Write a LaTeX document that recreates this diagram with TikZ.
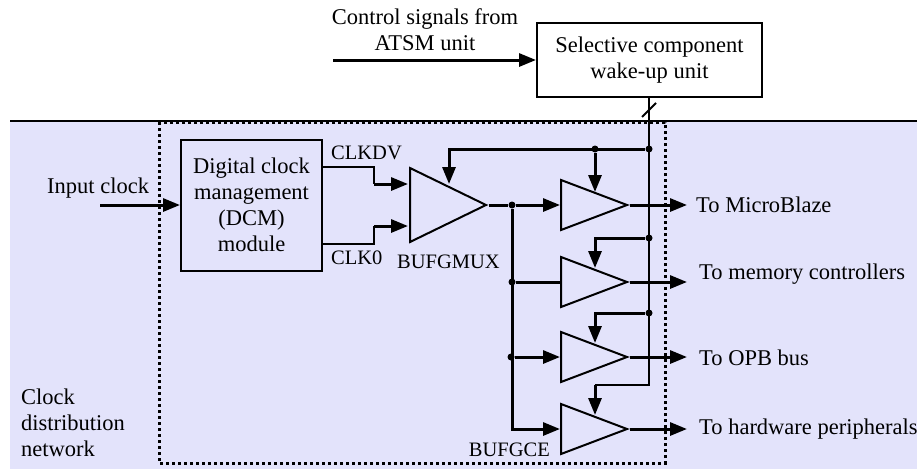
\documentclass[tikz,border=0pt]{standalone}
\usepackage{fontspec}
\setmainfont{Liberation Serif}
\usetikzlibrary{shapes.geometric,arrows.meta,positioning}
\definecolor{netblue}{RGB}{227,227,251}

\begin{document}
\begin{tikzpicture}[
        x=1pt, y=-1pt,
        every node/.style={font=\fontsize{22.5}{26}\selectfont, inner sep=0pt},
        small/.style={font=\fontsize{20.5}{24}\selectfont},
        >={Triangle[length=17pt,width=13pt]},
        box/.style={draw, line width=2pt, align=center},
        buf/.style={draw, line width=2pt, isosceles triangle, isosceles triangle stretches,
                    anchor=west, minimum width=50pt, minimum height=66pt},
        sig/.style={line width=3pt},
        ctl/.style={line width=2pt},
        dot/.style={circle, fill=black, minimum size=7pt},
    ]
        \useasboundingbox (0,0) rectangle (917,471);

        % --- Clock network boundary ---
        \fill[netblue] (10,121) rectangle (917,469);
        \draw[line width=2pt] (10,121) -- (917,121);
        \draw[line width=3pt, dash pattern=on 3pt off 3pt] (159,122) rectangle (665,463);

        % --- Boxes ---
        \node[box, minimum width=141pt, minimum height=131pt] (dcm) at (251.5,205)
            {Digital clock\\management\\(DCM)\\module};
        \node[box, minimum width=225pt, minimum height=74pt] (wake) at (649.5,60)
            {Selective component\\wake-up unit};

        % --- Buffers ---
        \node[buf, minimum width=74pt, minimum height=76pt] (mux) at (409,205) {};
        \node[buf] (bufa) at (560,205) {};
        \node[buf] (bufb) at (560,282) {};
        \node[buf] (bufc) at (560,357) {};
        \node[buf] (bufd) at (560,429) {};

        % --- Labels ---
        \node[align=center] (ctrltext) at (425,30) {Control signals from\\ATSM unit};
        \node[anchor=west] (intext) at (47,188) {Input clock};
        \node[small, anchor=west] (dvtext) at (331,153) {CLKDV};
        \node[small, anchor=west] (zerotext) at (331,258) {CLK0};
        \node[small, anchor=west] (muxtext) at (397,262) {BUFGMUX};
        \node[small, anchor=east] (cetext) at (550,450) {BUFGCE};
        \node[anchor=west, align=left] (nettext) at (21,423) {Clock\\distribution\\network};

        % --- Free ends and outputs ---
        \coordinate (ctrlin) at (333,60);
        \coordinate (clkin) at (100,205);
        \node[anchor=west] (outa) at (696,205) {To MicroBlaze};
        \node[anchor=west] (outb) at (699,274) {To memory controllers};
        \node[anchor=west] (outc) at (699,358) {To OPB bus};
        \node[anchor=west] (outd) at (699,429) {To hardware peripherals};

        % --- Input arrows ---
        \draw[->, sig] (ctrlin) -- (wake.west |- ctrlin);
        \draw[->, sig] (clkin) -- (dcm.west |- clkin);
        \draw[ctl] (dcm.east |- 0,167) -- (374,167) -- (374,184);
        \draw[->, sig] (374,184) -- (408,184);
        \draw[ctl] (dcm.east |- 0,244) -- (374,244) -- (374,226);
        \draw[->, sig] (374,226) -- (408,226);

        % --- Clock tree ---
        \node[dot] (tapa) at (512,205) {};
        \node[dot] (tapb) at (512,282) {};
        \node[dot] (tapc) at (511,357) {};
        \draw[sig] (mux.apex) -- (tapa);
        \draw[->, sig] (tapa) -- (bufa.west);
        \draw[sig] (tapb) -- (bufb.west);
        \draw[->, sig] (tapc) -- (bufc.west);
        \draw[->, sig] (tapa) |- (bufd.west);

        % --- Buffer outputs ---
        \draw[->, sig] (bufa.apex) -- (687,205);
        \draw[->, sig] (bufb.apex) -- (687,282);
        \draw[->, sig] (bufc.apex) -- (687,357);
        \draw[->, sig] (bufd.apex) -- (687,429);

        % --- Wake-up lines ---
        \node[dot] (wakea) at (649,149) {};
        \node[dot] (wakeb) at (649,238) {};
        \node[dot] (wakec) at (649,313) {};
        \node[dot] (waked) at (595,149) {};
        \draw[ctl] (wake.south -| wakea) -- (649,385) -- (595,385);
        \draw[line width=2pt] (642,117) -- (656,103);
        \draw[->, sig] (595,385) -- (595,415);
        \draw[->, sig] (wakea) -- (449,149) -- (449,184);
        \draw[->, sig] (waked) -- (595,192);
        \draw[->, sig] (wakeb) -- (595,238) -- (595,268);
        \draw[->, sig] (wakec) -- (595,313) -- (595,343);
    \end{tikzpicture}
\end{document}
